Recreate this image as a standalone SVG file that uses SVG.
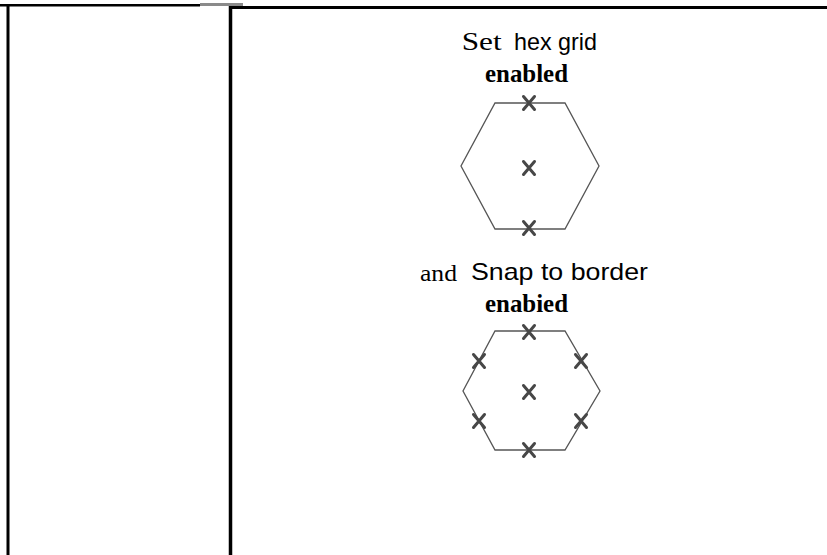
<svg xmlns="http://www.w3.org/2000/svg" width="827" height="555" viewBox="0 0 827 555">
<defs>
<style>
.frame{stroke:#000;fill:none}
.hex{fill:none;stroke:#555;stroke-width:1.3}
.xm{stroke:#474747;stroke-width:3;stroke-linecap:round;fill:none}
.serif{font-family:"Liberation Serif","Times New Roman",serif;fill:#000}
.sans{font-family:"Liberation Sans",Arial,sans-serif;fill:#000}
.b{font-weight:bold}
</style>
<g id="xmark"><path class="xm" d="M-5.5,-6.5 L5.5,6.5 M5.5,-6.5 L-5.5,6.5"/></g>
</defs>
<rect width="827" height="555" fill="#fff"/>
<g id="frame">
<line class="frame" x1="0" y1="5.3" x2="200" y2="5.3" stroke-width="2.6"/>
<line x1="200" y1="4.6" x2="243" y2="4.6" stroke="#8a8a8a" stroke-width="3"/>
<line class="frame" x1="229" y1="7.4" x2="827" y2="7.4" stroke-width="3"/>
<line class="frame" x1="8" y1="5" x2="8" y2="555" stroke-width="3"/>
<line class="frame" x1="230.5" y1="6" x2="230.5" y2="555" stroke-width="3.5"/>
</g>
<g id="hexgrid">
<text class="serif" x="461.7" y="50" font-size="26" textLength="40" lengthAdjust="spacingAndGlyphs">Set</text>
<text class="sans" x="514" y="50" font-size="24" textLength="83" lengthAdjust="spacingAndGlyphs">hex grid</text>
<text class="serif b" x="485" y="82" font-size="25" textLength="83" lengthAdjust="spacingAndGlyphs">enabled</text>
<polygon class="hex" points="495,103 565,103 599,166 565,229 495,229 461,166"/>
<use href="#xmark" x="529" y="103"/>
<use href="#xmark" x="529" y="168"/>
<use href="#xmark" x="529" y="228"/>
</g>
<g id="snapborder">
<text class="serif" x="420" y="281" font-size="24" textLength="37" lengthAdjust="spacingAndGlyphs">and</text>
<text class="sans" x="471" y="280" font-size="24" textLength="177" lengthAdjust="spacingAndGlyphs">Snap to border</text>
<text class="serif b" x="485" y="312" font-size="25" textLength="83" lengthAdjust="spacingAndGlyphs">enabied</text>
<polygon class="hex" points="495,331 565,331 600,391 565,450 495,450 463,391"/>
<use href="#xmark" x="529" y="332"/>
<use href="#xmark" x="479" y="361"/>
<use href="#xmark" x="581" y="361"/>
<use href="#xmark" x="529" y="392"/>
<use href="#xmark" x="479" y="421"/>
<use href="#xmark" x="581" y="421"/>
<use href="#xmark" x="529" y="450"/>
</g>
</svg>
